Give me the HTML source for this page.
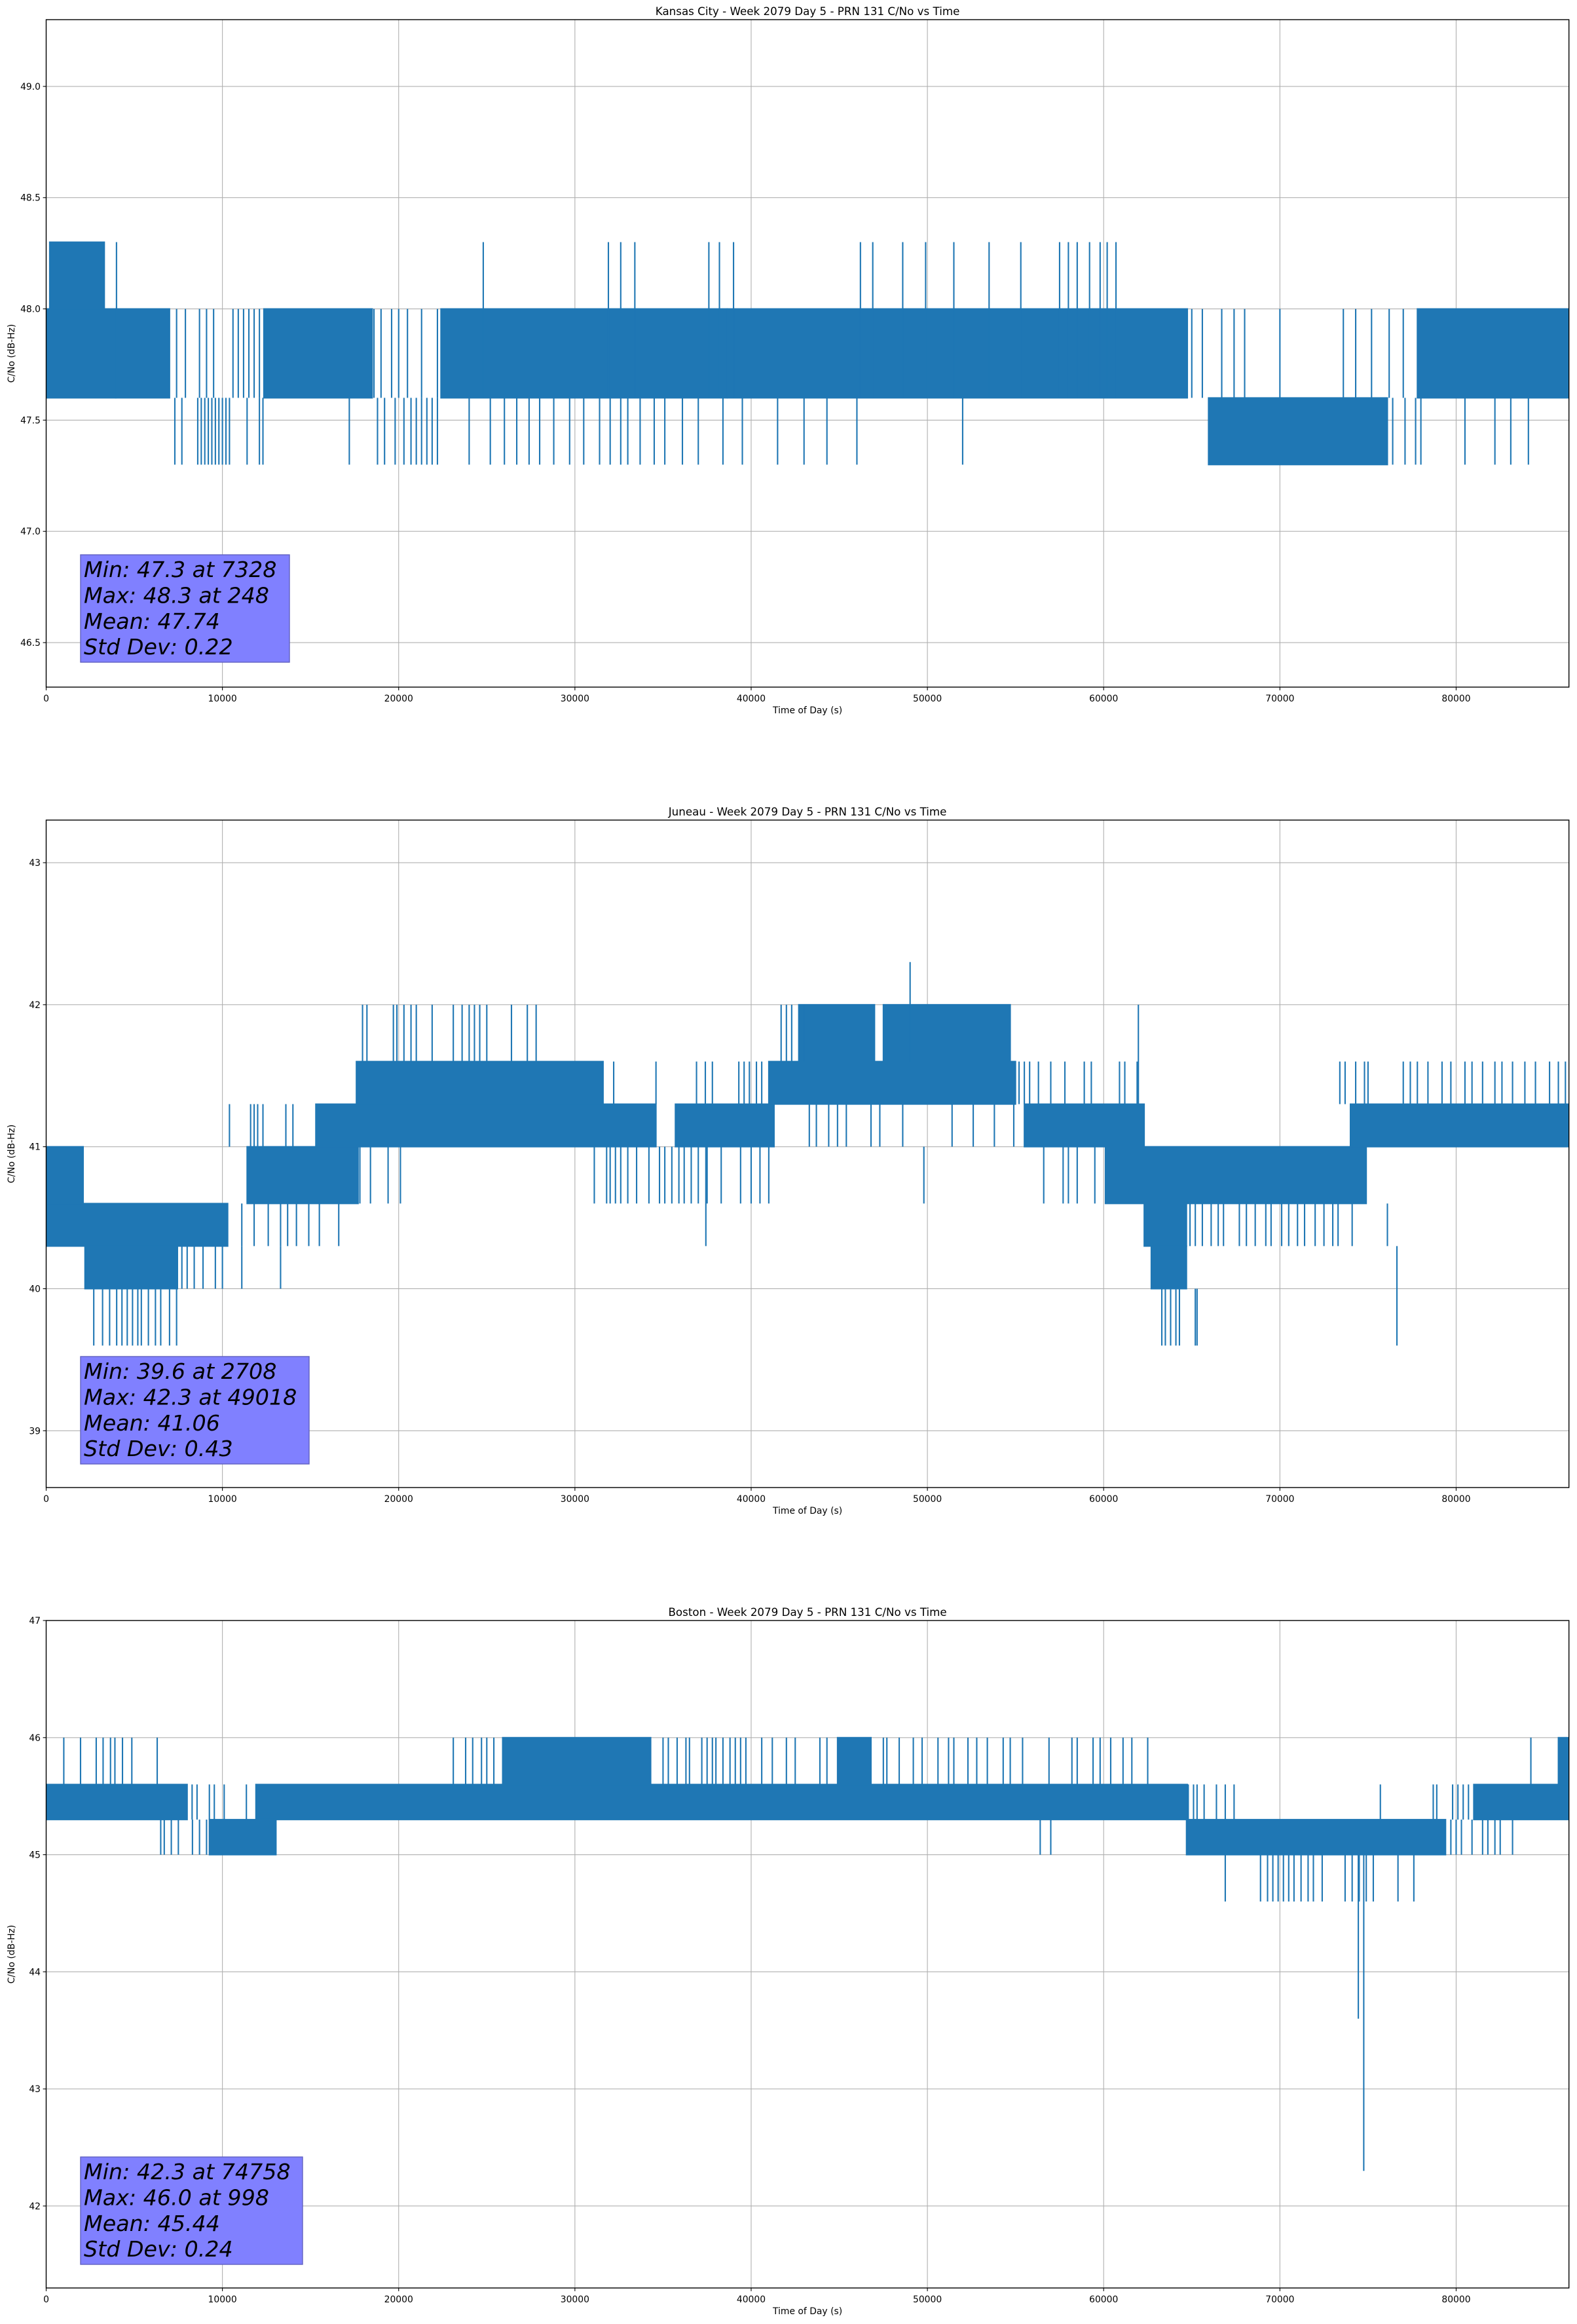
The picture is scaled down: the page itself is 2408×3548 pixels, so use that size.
<!DOCTYPE html>
<html><head><meta charset="utf-8">
<style>
html,body{margin:0;padding:0;background:#fff;}
svg{display:block;font-family:"DejaVu Sans","Liberation Sans",sans-serif;}
</style></head>
<body>
<svg id="fig" width="2408" height="3548" viewBox="0 0 2408 3548" xmlns="http://www.w3.org/2000/svg">
<rect x="0" y="0" width="2408" height="3548" fill="#fff"/>
</svg>
<script>
// ---------- Kansas City ----------
const kcBandStart=[0,200,3950,12350,22400,38650,65950,77800];
const kcBandEnd=[3950,3300,7000,18500,38650,64750,76100,86400];
const kcBandLo=[47.6,48.0,47.6,47.6,47.6,47.6,47.3,47.6];
const kcBandHi=[48.0,48.3,48.0,48.0,48.0,48.0,47.6,48.0];
const kcSpikeT=[7400,7900,8700,9100,9500,10600,10900,11200,11500,11800,12100,
7300,7700,8600,8800,9000,9200,9400,9600,9800,10000,10200,10400,11400,12100,12300,
18600,19000,19600,20000,20500,21300,22200,
18800,19200,19800,20300,20700,21000,21300,21600,21900,22200,
17200,24000,25200,26000,26700,27400,28000,28800,29700,30500,31400,32000,32600,33000,33700,34500,35100,36100,37000,38400,39500,41500,43000,44300,46000,52000,
3990,24800,31900,32600,33400,37600,38200,39000,46200,46900,48600,49900,51500,53500,55300,57500,58000,58500,59200,59800,60200,60700,
65000,65600,66700,67400,68000,70000,73600,74300,75200,76200,77000,
76400,77100,77700,78000,80500,82200,83100,84100];
const kcSpikeLo=[47.6,47.6,47.6,47.6,47.6,47.6,47.6,47.6,47.6,47.6,47.6,
47.3,47.3,47.3,47.3,47.3,47.3,47.3,47.3,47.3,47.3,47.3,47.3,47.3,47.3,47.3,
47.6,47.6,47.6,47.6,47.6,47.6,47.6,
47.3,47.3,47.3,47.3,47.3,47.3,47.3,47.3,47.3,47.3,
47.3,47.3,47.3,47.3,47.3,47.3,47.3,47.3,47.3,47.3,47.3,47.3,47.3,47.3,47.3,47.3,47.3,47.3,47.3,47.3,47.3,47.3,47.3,47.3,47.3,47.3,
47.6,47.6,47.6,47.6,47.6,47.6,47.6,47.6,47.6,47.6,47.6,47.6,47.6,47.6,47.6,47.6,47.6,47.6,47.6,47.6,47.6,47.6,
47.6,47.6,47.6,47.6,47.6,47.6,47.6,47.6,47.6,47.6,47.6,
47.3,47.3,47.3,47.3,47.3,47.3,47.3,47.3];
const kcSpikeHi=[48.0,48.0,48.0,48.0,48.0,48.0,48.0,48.0,48.0,48.0,48.0,
47.6,47.6,47.6,47.6,47.6,47.6,47.6,47.6,47.6,47.6,47.6,47.6,47.6,47.6,47.6,
48.0,48.0,48.0,48.0,48.0,48.0,48.0,
47.6,47.6,47.6,47.6,47.6,47.6,47.6,47.6,47.6,47.6,
47.6,47.6,47.6,47.6,47.6,47.6,47.6,47.6,47.6,47.6,47.6,47.6,47.6,47.6,47.6,47.6,47.6,47.6,47.6,47.6,47.6,47.6,47.6,47.6,47.6,47.6,
48.3,48.3,48.3,48.3,48.3,48.3,48.3,48.3,48.3,48.3,48.3,48.3,48.3,48.3,48.3,48.3,48.3,48.3,48.3,48.3,48.3,48.3,
48.0,48.0,48.0,48.0,48.0,48.0,48.0,48.0,48.0,48.0,48.0,
47.6,47.6,47.6,47.6,47.6,47.6,47.6,47.6];
const kcYTicks=[46.5,47.0,47.5,48.0,48.5,49.0];
const kcYTickLabels=["46.5","47.0","47.5","48.0","48.5","49.0"];
const kcStats=["Min: 47.3 at 7328","Max: 48.3 at 248","Mean: 47.74","Std Dev: 0.22"];

// ---------- Juneau ----------
const juBandStart=[0,50,2200,11400,15300,35700,17600,41000,55500,60100,62300,62700,74000,42700,47500];
const juBandEnd=[10300,2100,7450,17700,34600,41300,31600,55000,62300,74900,64700,64700,86400,47000,54700];
const juBandLo=[40.3,40.6,40.0,40.6,41.0,41.0,41.3,41.3,41.0,40.6,40.3,40.0,41.0,41.6,41.6];
const juBandHi=[40.6,41.0,40.3,41.0,41.3,41.3,41.6,41.6,41.3,41.0,40.6,40.3,41.3,42.0,42.0];
const juSpikeT=[17950,18200,19700,19900,20300,20700,21000,21900,23100,23600,24000,24300,24600,25000,26400,27300,27800,41700,42000,42300,43000,61970,
32200,34600,36900,37400,37800,39300,39600,39900,40300,40600,
55200,55500,55800,56300,57000,57800,58900,59300,60900,61200,61900,
73400,73700,74300,74800,75000,77000,77400,77800,78400,79200,79700,80500,80900,81500,82200,82600,83200,83900,84500,85300,85800,86200,
10400,11600,11800,12000,12300,13600,14000,
17800,18400,19400,20100,
31100,31800,32000,32300,32600,33000,33500,34200,34800,35100,35500,35900,36200,36600,37000,37500,38300,39400,40000,40500,41000,
43300,43700,44400,44900,45400,46800,47300,48600,51400,52600,53800,54900,
49800,56600,57700,58000,58500,59500,
11100,11800,12600,13300,13700,14200,14900,15500,16600,37430,
64900,65200,65600,66100,66500,66800,67700,68100,68600,69200,69500,70100,70500,71000,71400,72000,72500,73000,73300,74100,76100,
7700,8000,8400,8900,9600,10000,11100,13300,
2700,3200,3600,4000,4300,4600,4900,5200,5400,5800,6200,6500,7000,7400,
63300,63500,63800,64100,64300,65200,65300,
76640,49018];
const juSpikeLo=[41.6,41.6,41.6,41.6,41.6,41.6,41.6,41.6,41.6,41.6,41.6,41.6,41.6,41.6,41.6,41.6,41.6,41.6,41.6,41.6,41.6,41.3,
41.3,41.3,41.3,41.3,41.3,41.3,41.3,41.3,41.3,41.3,
41.3,41.3,41.3,41.3,41.3,41.3,41.3,41.3,41.3,41.3,41.3,
41.3,41.3,41.3,41.3,41.3,41.3,41.3,41.3,41.3,41.3,41.3,41.3,41.3,41.3,41.3,41.3,41.3,41.3,41.3,41.3,41.3,41.3,
41.0,41.0,41.0,41.0,41.0,41.0,41.0,
40.6,40.6,40.6,40.6,
40.6,40.6,40.6,40.6,40.6,40.6,40.6,40.6,40.6,40.6,40.6,40.6,40.6,40.6,40.6,40.6,40.6,40.6,40.6,40.6,40.6,
41.0,41.0,41.0,41.0,41.0,41.0,41.0,41.0,41.0,41.0,41.0,41.0,
40.6,40.6,40.6,40.6,40.6,40.6,
40.3,40.3,40.3,40.3,40.3,40.3,40.3,40.3,40.3,40.3,
40.3,40.3,40.3,40.3,40.3,40.3,40.3,40.3,40.3,40.3,40.3,40.3,40.3,40.3,40.3,40.3,40.3,40.3,40.3,40.3,40.3,
40.0,40.0,40.0,40.0,40.0,40.0,40.0,40.0,
39.6,39.6,39.6,39.6,39.6,39.6,39.6,39.6,39.6,39.6,39.6,39.6,39.6,39.6,
39.6,39.6,39.6,39.6,39.6,39.6,39.6,
39.6,41.6];
const juSpikeHi=[42.0,42.0,42.0,42.0,42.0,42.0,42.0,42.0,42.0,42.0,42.0,42.0,42.0,42.0,42.0,42.0,42.0,42.0,42.0,42.0,42.0,42.0,
41.6,41.6,41.6,41.6,41.6,41.6,41.6,41.6,41.6,41.6,
41.6,41.6,41.6,41.6,41.6,41.6,41.6,41.6,41.6,41.6,41.6,
41.6,41.6,41.6,41.6,41.6,41.6,41.6,41.6,41.6,41.6,41.6,41.6,41.6,41.6,41.6,41.6,41.6,41.6,41.6,41.6,41.6,41.6,
41.3,41.3,41.3,41.3,41.3,41.3,41.3,
41.0,41.0,41.0,41.0,
41.0,41.0,41.0,41.0,41.0,41.0,41.0,41.0,41.0,41.0,41.0,41.0,41.0,41.0,41.0,41.0,41.0,41.0,41.0,41.0,41.0,
41.3,41.3,41.3,41.3,41.3,41.3,41.3,41.3,41.3,41.3,41.3,41.3,
41.0,41.0,41.0,41.0,41.0,41.0,
40.6,40.6,40.6,40.6,40.6,40.6,40.6,40.6,40.6,41.0,
40.6,40.6,40.6,40.6,40.6,40.6,40.6,40.6,40.6,40.6,40.6,40.6,40.6,40.6,40.6,40.6,40.6,40.6,40.6,40.6,40.6,
40.3,40.3,40.3,40.3,40.3,40.3,40.3,40.3,
40.0,40.0,40.0,40.0,40.0,40.0,40.0,40.0,40.0,40.0,40.0,40.0,40.0,40.0,
40.0,40.0,40.0,40.0,40.0,40.0,40.0,
40.3,42.3];
const juYTicks=[39,40,41,42,43];
const juYTickLabels=["39","40","41","42","43"];
const juStats=["Min: 39.6 at 2708","Max: 42.3 at 49018","Mean: 41.06","Std Dev: 0.43"];

// ---------- Boston ----------
const boBandStart=[0,11900,81000,64700,9260,25900,44900,85800];
const boBandEnd=[8000,64750,86400,79400,13040,34300,46800,86400];
const boBandLo=[45.3,45.3,45.3,45.0,45.0,45.6,45.6,45.6];
const boBandHi=[45.6,45.6,45.6,45.3,45.3,46.0,46.0,46.0];
const boSpikeT=[1000,1950,2840,3230,3650,3900,4330,4860,6300,
23100,23800,24200,24700,25000,25400,35000,35300,35800,36300,36500,37200,37500,37800,38000,38400,38800,39100,39400,39700,40600,41200,42000,42500,
43900,44300,47500,47700,48400,49200,49700,50600,51200,51500,52300,52800,53400,54300,54700,55400,56900,58200,58500,59400,59800,60400,61100,61600,62500,84240,
8280,8560,9260,9540,10100,11360,
64800,65100,65300,65700,66400,66900,67400,75700,78700,78900,79800,80100,80400,80700,
6500,6700,7100,7500,8300,8700,9100,56400,57000,
79700,80000,80300,80900,81500,81800,82200,82500,83200,
66900,68900,69300,69600,69900,70200,70500,70800,71200,71600,71900,72400,73700,74100,74500,74900,75300,76700,77600,
74450,74758];
const boSpikeLo=[45.6,45.6,45.6,45.6,45.6,45.6,45.6,45.6,45.6,
45.6,45.6,45.6,45.6,45.6,45.6,45.6,45.6,45.6,45.6,45.6,45.6,45.6,45.6,45.6,45.6,45.6,45.6,45.6,45.6,45.6,45.6,45.6,45.6,
45.6,45.6,45.6,45.6,45.6,45.6,45.6,45.6,45.6,45.6,45.6,45.6,45.6,45.6,45.6,45.6,45.6,45.6,45.6,45.6,45.6,45.6,45.6,45.6,45.6,45.6,
45.3,45.3,45.3,45.3,45.3,45.3,
45.3,45.3,45.3,45.3,45.3,45.3,45.3,45.3,45.3,45.3,45.3,45.3,45.3,45.3,
45.0,45.0,45.0,45.0,45.0,45.0,45.0,45.0,45.0,
45.0,45.0,45.0,45.0,45.0,45.0,45.0,45.0,45.0,
44.6,44.6,44.6,44.6,44.6,44.6,44.6,44.6,44.6,44.6,44.6,44.6,44.6,44.6,44.6,44.6,44.6,44.6,44.6,
43.6,42.3];
const boSpikeHi=[46.0,46.0,46.0,46.0,46.0,46.0,46.0,46.0,46.0,
46.0,46.0,46.0,46.0,46.0,46.0,46.0,46.0,46.0,46.0,46.0,46.0,46.0,46.0,46.0,46.0,46.0,46.0,46.0,46.0,46.0,46.0,46.0,46.0,
46.0,46.0,46.0,46.0,46.0,46.0,46.0,46.0,46.0,46.0,46.0,46.0,46.0,46.0,46.0,46.0,46.0,46.0,46.0,46.0,46.0,46.0,46.0,46.0,46.0,46.0,
45.6,45.6,45.6,45.6,45.6,45.6,
45.6,45.6,45.6,45.6,45.6,45.6,45.6,45.6,45.6,45.6,45.6,45.6,45.6,45.6,
45.3,45.3,45.3,45.3,45.3,45.3,45.3,45.3,45.3,
45.3,45.3,45.3,45.3,45.3,45.3,45.3,45.3,45.3,
45.0,45.0,45.0,45.0,45.0,45.0,45.0,45.0,45.0,45.0,45.0,45.0,45.0,45.0,45.0,45.0,45.0,45.0,45.0,
45.0,45.0];
const boYTicks=[42,43,44,45,46,47];
const boYTickLabels=["42","43","44","45","46","47"];
const boStats=["Min: 42.3 at 74758","Max: 46.0 at 998","Mean: 45.44","Std Dev: 0.24"];

const xTicks=[0,10000,20000,30000,40000,50000,60000,70000,80000];
const xTickLabels=["0","10000","20000","30000","40000","50000","60000","70000","80000"];

const NS="http://www.w3.org/2000/svg";
const svg=document.getElementById('fig');
function mk(tag,attrs,parent){const e=document.createElementNS(NS,tag);for(const k in attrs)e.setAttribute(k,attrs[k]);(parent||svg).appendChild(e);return e;}

function drawPanel(p){
  const L=70.5,R=2395.7,T=30+1222*p.idx,B=T+1019;
  const X0=0,X1=86400;
  const sx=v=>L+(v-X0)/(X1-X0)*(R-L);
  const sy=v=>B-(v-p.ymin)/(p.ymax-p.ymin)*(B-T);
  const g=mk('g',{});
  
  
  // grid
  xTicks.forEach((t,i)=>{
    const l=mk('line',{x1:sx(t),x2:sx(t),y1:T,y2:B,stroke:'#b0b0b0','stroke-width':1.1},g);
    
    
  });
  p.yt.forEach((v,i)=>{
    const l=mk('line',{x1:L,x2:R,y1:sy(v),y2:sy(v),stroke:'#b0b0b0','stroke-width':1.1},g);
    
    
  });
  // clip
  const cp=mk('clipPath',{id:'clip'+p.idx},g);
  mk('rect',{x:L,y:T,width:R-L,height:B-T},cp);
  const dg=mk('g',{'clip-path':'url(#clip'+p.idx+')'},g);
  
  
  for(let i=0;i<p.bs.length;i++){
    const r=mk('rect',{x:sx(p.bs[i])-1,y:sy(p.bh[i])-1,width:sx(p.be[i])-sx(p.bs[i])+2,height:sy(p.bl[i])-sy(p.bh[i])+2,fill:'#1f77b4'},dg);
    
    
  }
  for(let i=0;i<p.st.length;i++){
    const l=mk('line',{x1:sx(p.st[i]),x2:sx(p.st[i]),y1:sy(p.sl[i]),y2:sy(p.sh[i]),stroke:'#1f77b4','stroke-width':2.1},dg);
    
    
  }
  // frame
  const fr=mk('rect',{x:L,y:T,width:R-L,height:B-T,fill:'none',stroke:'#000','stroke-width':1.4},g);
  
  
  // ticks
  xTicks.forEach((t,i)=>{
    mk('line',{x1:sx(t),x2:sx(t),y1:B,y2:B+4.9,stroke:'#000','stroke-width':1.1},g);
    const tx=mk('text',{x:sx(t),y:B+22,'font-size':13.9,'text-anchor':'middle',fill:'#000'},g);
    tx.textContent=xTickLabels[i];
    
    
  });
  p.yt.forEach((v,i)=>{
    mk('line',{x1:L-4.9,x2:L,y1:sy(v),y2:sy(v),stroke:'#000','stroke-width':1.1},g);
    const tx=mk('text',{x:L-8.5,y:sy(v)+5,'font-size':13.9,'text-anchor':'end',fill:'#000'},g);
    tx.textContent=p.ytl[i];
    
    
  });
  const title=mk('text',{x:(L+R)/2,y:T-7,'font-size':16.7,'text-anchor':'middle',fill:'#000'},g);
  title.textContent=p.title;
  
  
  const xl=mk('text',{x:(L+R)/2,y:B+40,'font-size':13.9,'text-anchor':'middle',fill:'#000'},g);
  xl.textContent='Time of Day (s)';
  
  
  const yc=(T+B)/2;
  const yl=mk('text',{x:22,y:yc,'font-size':13.9,'text-anchor':'middle',fill:'#000',transform:'rotate(-90 22 '+yc+')'},g);
  yl.textContent='C/No (dB-Hz)';
  
  
  // stats box
  const bx=123,by=T+p.boxOff;
  const box=mk('rect',{x:bx,y:by,width:p.boxW,height:164,fill:'#8080ff',stroke:'#6060c0','stroke-width':1.4},g);
  
  
  p.stats.forEach((s,i)=>{
    const t=mk('text',{x:bx+5,y:by+34+i*39.4,'font-size':33.3,'font-style':'italic',fill:'#000'},g);
    t.textContent=s;
    
    
  });
}
drawPanel({idx:0,name:'kansas-city',title:'Kansas City - Week 2079 Day 5 - PRN 131 C/No vs Time',ymin:46.3,ymax:49.3,
  bs:kcBandStart,be:kcBandEnd,bl:kcBandLo,bh:kcBandHi,st:kcSpikeT,sl:kcSpikeLo,sh:kcSpikeHi,yt:kcYTicks,ytl:kcYTickLabels,stats:kcStats,boxOff:817,boxW:319});
drawPanel({idx:1,name:'juneau',title:'Juneau - Week 2079 Day 5 - PRN 131 C/No vs Time',ymin:38.6,ymax:43.3,
  bs:juBandStart,be:juBandEnd,bl:juBandLo,bh:juBandHi,st:juSpikeT,sl:juSpikeLo,sh:juSpikeHi,yt:juYTicks,ytl:juYTickLabels,stats:juStats,boxOff:819,boxW:349});
drawPanel({idx:2,name:'boston',title:'Boston - Week 2079 Day 5 - PRN 131 C/No vs Time',ymin:41.3,ymax:47.0,
  bs:boBandStart,be:boBandEnd,bl:boBandLo,bh:boBandHi,st:boSpikeT,sl:boSpikeLo,sh:boSpikeHi,yt:boYTicks,ytl:boYTickLabels,stats:boStats,boxOff:819,boxW:339});
</script>
</body></html>
